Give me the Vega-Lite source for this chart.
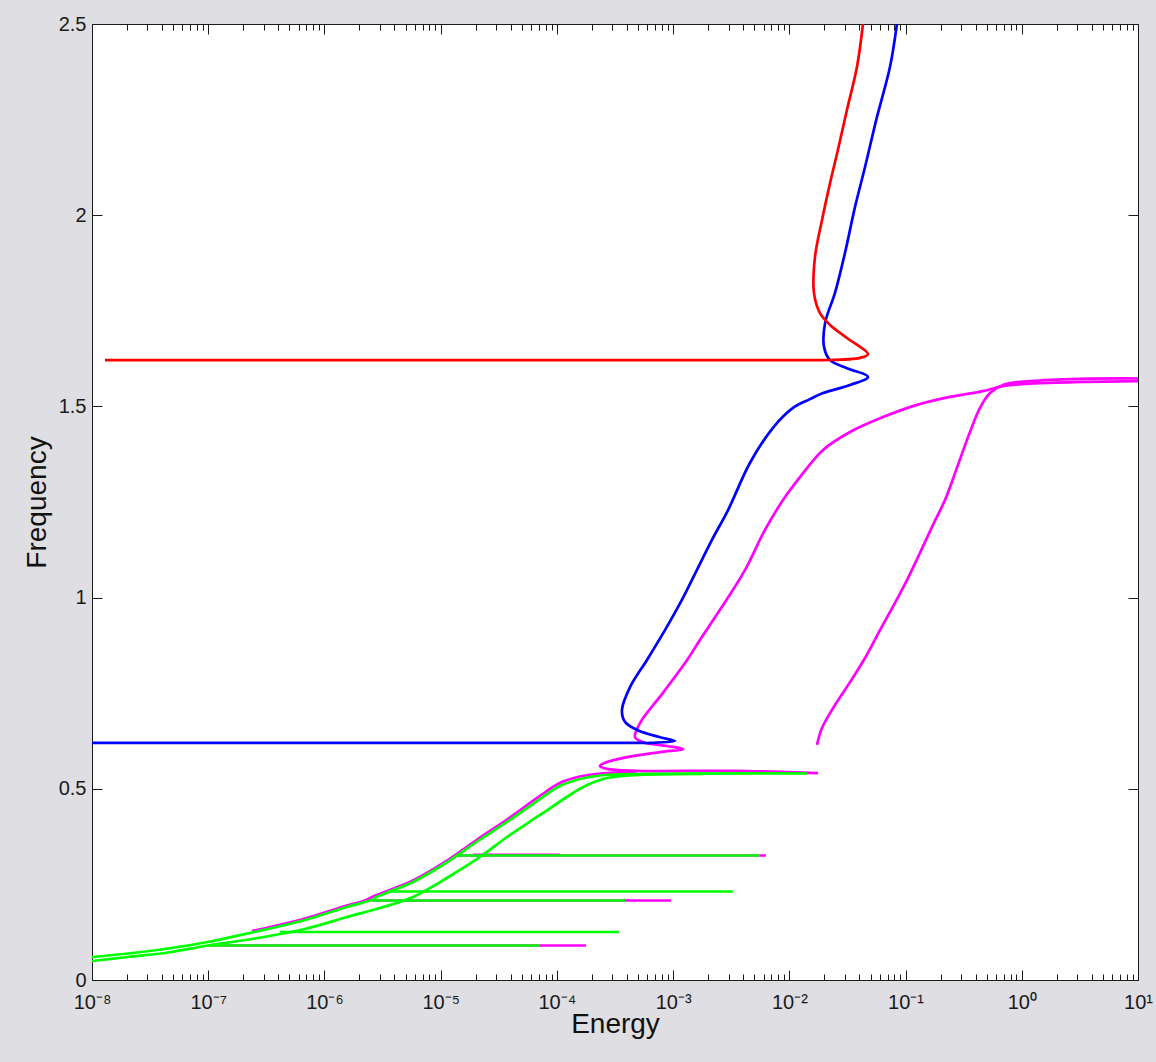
{
  "$schema": "https://vega.github.io/schema/vega-lite/v6.json",
  "width": 1046,
  "height": 956,
  "autosize": {"type": "none"},
  "padding": {"left": 92, "top": 24, "right": 18, "bottom": 82},
  "background": "#dedee3",
  "view": {"fill": "white", "stroke": "#1a1a1a", "strokeWidth": 1},
  "config": {
    "axis": {
      "domain": false,
      "grid": false,
      "tickColor": "#1a1a1a",
      "tickWidth": 1,
      "labelFont": "Liberation Sans",
      "labelFontSize": 19,
      "labelColor": "#1a1a1a",
      "labelFlush": false,
      "labelOverlap": false,
      "labelBound": false,
      "titleFont": "Liberation Sans",
      "titleFontSize": 28,
      "titleFontWeight": "normal",
      "titleColor": "#111111",
      "zindex": 1
    }
  },
  "data": {
    "values": [
      {"branch": "R", "mode": "A", "i": 0, "energy": 1.294e-8, "frequency": 1.621},
      {"branch": "R", "mode": "A", "i": 1, "energy": 0.015, "frequency": 1.621},
      {"branch": "R", "mode": "A", "i": 2, "energy": 0.0195, "frequency": 1.621},
      {"branch": "R", "mode": "A", "i": 3, "energy": 0.0406, "frequency": 1.627},
      {"branch": "R", "mode": "A", "i": 4, "energy": 0.0475, "frequency": 1.637},
      {"branch": "R", "mode": "A", "i": 5, "energy": 0.0313, "frequency": 1.679},
      {"branch": "R", "mode": "A", "i": 6, "energy": 0.0224, "frequency": 1.713},
      {"branch": "R", "mode": "A", "i": 7, "energy": 0.01835, "frequency": 1.744},
      {"branch": "R", "mode": "A", "i": 8, "energy": 0.01629, "frequency": 1.797},
      {"branch": "R", "mode": "A", "i": 9, "energy": 0.01663, "frequency": 1.891},
      {"branch": "R", "mode": "A", "i": 10, "energy": 0.0191, "frequency": 1.987},
      {"branch": "R", "mode": "A", "i": 11, "energy": 0.0224, "frequency": 2.084},
      {"branch": "R", "mode": "A", "i": 12, "energy": 0.02621, "frequency": 2.171},
      {"branch": "R", "mode": "A", "i": 13, "energy": 0.0313, "frequency": 2.275},
      {"branch": "R", "mode": "A", "i": 14, "energy": 0.0382, "frequency": 2.388},
      {"branch": "R", "mode": "A", "i": 15, "energy": 0.043, "frequency": 2.5},

      {"branch": "B", "mode": "B", "i": 0, "energy": 1e-8, "frequency": 0.62},
      {"branch": "B", "mode": "B", "i": 1, "energy": 5e-4, "frequency": 0.62},
      {"branch": "B", "mode": "B", "i": 2, "energy": 6.32e-4, "frequency": 0.62},
      {"branch": "B", "mode": "B", "i": 3, "energy": 1.038e-3, "frequency": 0.625},
      {"branch": "B", "mode": "B", "i": 4, "energy": 7.71e-4, "frequency": 0.635},
      {"branch": "B", "mode": "B", "i": 5, "energy": 4.89e-4, "frequency": 0.654},
      {"branch": "B", "mode": "B", "i": 6, "energy": 3.86e-4, "frequency": 0.675},
      {"branch": "B", "mode": "B", "i": 7, "energy": 3.63e-4, "frequency": 0.706},
      {"branch": "B", "mode": "B", "i": 8, "energy": 4.26e-4, "frequency": 0.766},
      {"branch": "B", "mode": "B", "i": 9, "energy": 5.96e-4, "frequency": 0.837},
      {"branch": "B", "mode": "B", "i": 10, "energy": 8.51e-4, "frequency": 0.915},
      {"branch": "B", "mode": "B", "i": 11, "energy": 1.19e-3, "frequency": 0.994},
      {"branch": "B", "mode": "B", "i": 12, "energy": 1.6e-3, "frequency": 1.072},
      {"branch": "B", "mode": "B", "i": 13, "energy": 2.16e-3, "frequency": 1.151},
      {"branch": "B", "mode": "B", "i": 14, "energy": 2.97e-3, "frequency": 1.229},
      {"branch": "B", "mode": "B", "i": 15, "energy": 4.58e-3, "frequency": 1.352},
      {"branch": "B", "mode": "B", "i": 16, "energy": 7.23e-3, "frequency": 1.444},
      {"branch": "B", "mode": "B", "i": 17, "energy": 1.075e-2, "frequency": 1.496},
      {"branch": "B", "mode": "B", "i": 18, "energy": 1.506e-2, "frequency": 1.519},
      {"branch": "B", "mode": "B", "i": 19, "energy": 1.95e-2, "frequency": 1.535},
      {"branch": "B", "mode": "B", "i": 20, "energy": 3.33e-2, "frequency": 1.556},
      {"branch": "B", "mode": "B", "i": 21, "energy": 4.75e-2, "frequency": 1.577},
      {"branch": "B", "mode": "B", "i": 22, "energy": 3.13e-2, "frequency": 1.6},
      {"branch": "B", "mode": "B", "i": 23, "energy": 2.24e-2, "frequency": 1.621},
      {"branch": "B", "mode": "B", "i": 24, "energy": 1.99e-2, "frequency": 1.655},
      {"branch": "B", "mode": "B", "i": 25, "energy": 2.03e-2, "frequency": 1.718},
      {"branch": "B", "mode": "B", "i": 26, "energy": 2.47e-2, "frequency": 1.797},
      {"branch": "B", "mode": "B", "i": 27, "energy": 3.01e-2, "frequency": 1.901},
      {"branch": "B", "mode": "B", "i": 28, "energy": 3.67e-2, "frequency": 2.021},
      {"branch": "B", "mode": "B", "i": 29, "energy": 4.48e-2, "frequency": 2.126},
      {"branch": "B", "mode": "B", "i": 30, "energy": 5.68e-2, "frequency": 2.257},
      {"branch": "B", "mode": "B", "i": 31, "energy": 7.35e-2, "frequency": 2.388},
      {"branch": "B", "mode": "B", "i": 32, "energy": 8.43e-2, "frequency": 2.5},

      {"branch": "C1", "mode": "C", "i": 0, "energy": 10, "frequency": 1.566},
      {"branch": "C1", "mode": "C", "i": 1, "energy": 3.363, "frequency": 1.564},
      {"branch": "C1", "mode": "C", "i": 2, "energy": 1.248, "frequency": 1.56},
      {"branch": "C1", "mode": "C", "i": 3, "energy": 0.689, "frequency": 1.553},
      {"branch": "C1", "mode": "C", "i": 4, "energy": 0.463, "frequency": 1.54},
      {"branch": "C1", "mode": "C", "i": 5, "energy": 0.241, "frequency": 1.525},
      {"branch": "C1", "mode": "C", "i": 6, "energy": 0.1253, "frequency": 1.504},
      {"branch": "C1", "mode": "C", "i": 7, "energy": 0.064, "frequency": 1.472},
      {"branch": "C1", "mode": "C", "i": 8, "energy": 0.0333, "frequency": 1.433},
      {"branch": "C1", "mode": "C", "i": 9, "energy": 0.0195, "frequency": 1.386},
      {"branch": "C1", "mode": "C", "i": 10, "energy": 0.01235, "frequency": 1.315},
      {"branch": "C1", "mode": "C", "i": 11, "energy": 8.82e-3, "frequency": 1.255},
      {"branch": "C1", "mode": "C", "i": 12, "energy": 6.17e-3, "frequency": 1.177},
      {"branch": "C1", "mode": "C", "i": 13, "energy": 4.15e-3, "frequency": 1.072},
      {"branch": "C1", "mode": "C", "i": 14, "energy": 2.53e-3, "frequency": 0.968},
      {"branch": "C1", "mode": "C", "i": 15, "energy": 1.7e-3, "frequency": 0.889},
      {"branch": "C1", "mode": "C", "i": 16, "energy": 1.32e-3, "frequency": 0.837},
      {"branch": "C1", "mode": "C", "i": 17, "energy": 8.18e-4, "frequency": 0.751},
      {"branch": "C1", "mode": "C", "i": 18, "energy": 5.19e-4, "frequency": 0.672},
      {"branch": "C1", "mode": "C", "i": 19, "energy": 4.7e-4, "frequency": 0.635},
      {"branch": "C1", "mode": "C", "i": 20, "energy": 5.51e-4, "frequency": 0.622},
      {"branch": "C1", "mode": "C", "i": 21, "energy": 8.86e-4, "frequency": 0.612},
      {"branch": "C1", "mode": "C", "i": 22, "energy": 1.22e-3, "frequency": 0.604},
      {"branch": "C1", "mode": "C", "i": 23, "energy": 7.71e-4, "frequency": 0.596},
      {"branch": "C1", "mode": "C", "i": 24, "energy": 4.01e-4, "frequency": 0.583},
      {"branch": "C1", "mode": "C", "i": 25, "energy": 2.7e-4, "frequency": 0.57},
      {"branch": "C1", "mode": "C", "i": 26, "energy": 2.35e-4, "frequency": 0.56},
      {"branch": "C1", "mode": "C", "i": 27, "energy": 2.7e-4, "frequency": 0.552},
      {"branch": "C1", "mode": "C", "i": 28, "energy": 4.89e-4, "frequency": 0.547},
      {"branch": "C1", "mode": "C", "i": 29, "energy": 3.27e-3, "frequency": 0.547},
      {"branch": "C1", "mode": "C", "i": 30, "energy": 1.764e-2, "frequency": 0.541},

      {"branch": "C2", "mode": "C", "i": 0, "energy": 0.01729, "frequency": 0.615},
      {"branch": "C2", "mode": "C", "i": 1, "energy": 0.0191, "frequency": 0.659},
      {"branch": "C2", "mode": "C", "i": 2, "energy": 0.0247, "frequency": 0.719},
      {"branch": "C2", "mode": "C", "i": 3, "energy": 0.0333, "frequency": 0.779},
      {"branch": "C2", "mode": "C", "i": 4, "energy": 0.0448, "frequency": 0.842},
      {"branch": "C2", "mode": "C", "i": 5, "energy": 0.0603, "frequency": 0.915},
      {"branch": "C2", "mode": "C", "i": 6, "energy": 0.0811, "frequency": 0.986},
      {"branch": "C2", "mode": "C", "i": 7, "energy": 0.1049, "frequency": 1.051},
      {"branch": "C2", "mode": "C", "i": 8, "energy": 0.1331, "frequency": 1.117},
      {"branch": "C2", "mode": "C", "i": 9, "energy": 0.1722, "frequency": 1.19},
      {"branch": "C2", "mode": "C", "i": 10, "energy": 0.2184, "frequency": 1.255},
      {"branch": "C2", "mode": "C", "i": 11, "energy": 0.2825, "frequency": 1.347},
      {"branch": "C2", "mode": "C", "i": 12, "energy": 0.3584, "frequency": 1.433},
      {"branch": "C2", "mode": "C", "i": 13, "energy": 0.4369, "frequency": 1.496},
      {"branch": "C2", "mode": "C", "i": 14, "energy": 0.5325, "frequency": 1.535},
      {"branch": "C2", "mode": "C", "i": 15, "energy": 0.689, "frequency": 1.556},
      {"branch": "C2", "mode": "C", "i": 16, "energy": 1.177, "frequency": 1.566},
      {"branch": "C2", "mode": "C", "i": 17, "energy": 3.168, "frequency": 1.572},
      {"branch": "C2", "mode": "C", "i": 18, "energy": 10, "frequency": 1.573},

      {"branch": "C3", "mode": "C", "i": 0, "energy": 2.38e-7, "frequency": 0.1281},
      {"branch": "C3", "mode": "C", "i": 1, "energy": 6.8e-7, "frequency": 0.1608},
      {"branch": "C3", "mode": "C", "i": 2, "energy": 1.56e-6, "frequency": 0.1948},
      {"branch": "C3", "mode": "C", "i": 3, "energy": 2.23e-6, "frequency": 0.2079},
      {"branch": "C3", "mode": "C", "i": 4, "energy": 2.57e-6, "frequency": 0.2171},
      {"branch": "C3", "mode": "C", "i": 5, "energy": 3.66e-6, "frequency": 0.2354},
      {"branch": "C3", "mode": "C", "i": 6, "energy": 5.78e-6, "frequency": 0.2602},
      {"branch": "C3", "mode": "C", "i": 7, "energy": 1.09e-5, "frequency": 0.3086},
      {"branch": "C3", "mode": "C", "i": 8, "energy": 2.09e-5, "frequency": 0.3687},
      {"branch": "C3", "mode": "C", "i": 9, "energy": 3.72e-5, "frequency": 0.4197},
      {"branch": "C3", "mode": "C", "i": 10, "energy": 7.15e-5, "frequency": 0.4812},
      {"branch": "C3", "mode": "C", "i": 11, "energy": 1.06e-4, "frequency": 0.5152},
      {"branch": "C3", "mode": "C", "i": 12, "energy": 1.58e-4, "frequency": 0.5322},
      {"branch": "C3", "mode": "C", "i": 13, "energy": 2.35e-4, "frequency": 0.54},
      {"branch": "C3", "mode": "C", "i": 14, "energy": 4.89e-4, "frequency": 0.5452},

      {"branch": "C4", "mode": "C", "i": 0, "energy": 9.95e-8, "frequency": 0.0902},
      {"branch": "C4", "mode": "C", "i": 1, "energy": 1.78e-4, "frequency": 0.0902},
      {"branch": "C5", "mode": "C", "i": 0, "energy": 2.57e-6, "frequency": 0.2079},
      {"branch": "C5", "mode": "C", "i": 1, "energy": 9.59e-4, "frequency": 0.2079},
      {"branch": "C6", "mode": "C", "i": 0, "energy": 1.9e-5, "frequency": 0.3275},
      {"branch": "C6", "mode": "C", "i": 1, "energy": 1.06e-4, "frequency": 0.3275},
      {"branch": "C7", "mode": "C", "i": 0, "energy": 1.355e-5, "frequency": 0.3256},
      {"branch": "C7", "mode": "C", "i": 1, "energy": 6.3e-3, "frequency": 0.3256},

      {"branch": "D1", "mode": "D", "i": 0, "energy": 1e-8, "frequency": 0.0601},
      {"branch": "D1", "mode": "D", "i": 1, "energy": 2.04e-8, "frequency": 0.0693},
      {"branch": "D1", "mode": "D", "i": 2, "energy": 4.51e-8, "frequency": 0.0824},
      {"branch": "D1", "mode": "D", "i": 3, "energy": 9.95e-8, "frequency": 0.0994},
      {"branch": "D1", "mode": "D", "i": 4, "energy": 2.38e-7, "frequency": 0.1242},
      {"branch": "D1", "mode": "D", "i": 5, "energy": 6.8e-7, "frequency": 0.1569},
      {"branch": "D1", "mode": "D", "i": 6, "energy": 1.56e-6, "frequency": 0.1909},
      {"branch": "D1", "mode": "D", "i": 7, "energy": 2.23e-6, "frequency": 0.204},
      {"branch": "D1", "mode": "D", "i": 8, "energy": 2.78e-6, "frequency": 0.2131},

      {"branch": "D2", "mode": "D", "i": 0, "energy": 1e-8, "frequency": 0.0497},
      {"branch": "D2", "mode": "D", "i": 1, "energy": 2.04e-8, "frequency": 0.0601},
      {"branch": "D2", "mode": "D", "i": 2, "energy": 4.51e-8, "frequency": 0.0719},
      {"branch": "D2", "mode": "D", "i": 3, "energy": 9.95e-8, "frequency": 0.0902},
      {"branch": "D2", "mode": "D", "i": 4, "energy": 2.38e-7, "frequency": 0.1072},
      {"branch": "D2", "mode": "D", "i": 5, "energy": 6.8e-7, "frequency": 0.1334},
      {"branch": "D2", "mode": "D", "i": 6, "energy": 1.56e-6, "frequency": 0.1647},
      {"branch": "D2", "mode": "D", "i": 7, "energy": 3.01e-6, "frequency": 0.1883},
      {"branch": "D2", "mode": "D", "i": 8, "energy": 5.78e-6, "frequency": 0.2171},
      {"branch": "D2", "mode": "D", "i": 9, "energy": 1.13e-5, "frequency": 0.2667},
      {"branch": "D2", "mode": "D", "i": 10, "energy": 2.18e-5, "frequency": 0.3217},
      {"branch": "D2", "mode": "D", "i": 11, "energy": 3.72e-5, "frequency": 0.374},
      {"branch": "D2", "mode": "D", "i": 12, "energy": 7.15e-5, "frequency": 0.4315},
      {"branch": "D2", "mode": "D", "i": 13, "energy": 1.375e-4, "frequency": 0.489},
      {"branch": "D2", "mode": "D", "i": 14, "energy": 1.82e-4, "frequency": 0.5099},
      {"branch": "D2", "mode": "D", "i": 15, "energy": 2.7e-4, "frequency": 0.5282},
      {"branch": "D2", "mode": "D", "i": 16, "energy": 5.19e-4, "frequency": 0.5361},
      {"branch": "D2", "mode": "D", "i": 17, "energy": 1.81e-3, "frequency": 0.5387},

      {"branch": "D3", "mode": "D", "i": 0, "energy": 2.67e-6, "frequency": 0.2144},
      {"branch": "D3", "mode": "D", "i": 1, "energy": 3.66e-6, "frequency": 0.2314},
      {"branch": "D3", "mode": "D", "i": 2, "energy": 5.78e-6, "frequency": 0.2563},
      {"branch": "D3", "mode": "D", "i": 3, "energy": 1.09e-5, "frequency": 0.3047},
      {"branch": "D3", "mode": "D", "i": 4, "energy": 2.09e-5, "frequency": 0.3635},
      {"branch": "D3", "mode": "D", "i": 5, "energy": 3.72e-5, "frequency": 0.4132},
      {"branch": "D3", "mode": "D", "i": 6, "energy": 7.15e-5, "frequency": 0.4733},
      {"branch": "D3", "mode": "D", "i": 7, "energy": 1.06e-4, "frequency": 0.5073},
      {"branch": "D3", "mode": "D", "i": 8, "energy": 1.58e-4, "frequency": 0.5256},
      {"branch": "D3", "mode": "D", "i": 9, "energy": 2.35e-4, "frequency": 0.5348},
      {"branch": "D3", "mode": "D", "i": 10, "energy": 5.19e-4, "frequency": 0.5387},
      {"branch": "D3", "mode": "D", "i": 11, "energy": 1.42e-2, "frequency": 0.54},

      {"branch": "D4", "mode": "D", "i": 0, "energy": 9.95e-8, "frequency": 0.0902},
      {"branch": "D4", "mode": "D", "i": 1, "energy": 7.15e-5, "frequency": 0.0902},
      {"branch": "D5", "mode": "D", "i": 0, "energy": 4.15e-7, "frequency": 0.1255},
      {"branch": "D5", "mode": "D", "i": 1, "energy": 3.42e-4, "frequency": 0.1255},
      {"branch": "D6", "mode": "D", "i": 0, "energy": 2.57e-6, "frequency": 0.2079},
      {"branch": "D6", "mode": "D", "i": 1, "energy": 3.86e-4, "frequency": 0.2079},
      {"branch": "D7", "mode": "D", "i": 0, "energy": 3.52e-6, "frequency": 0.2314},
      {"branch": "D7", "mode": "D", "i": 1, "energy": 3.27e-3, "frequency": 0.2314},
      {"branch": "D8", "mode": "D", "i": 0, "energy": 1.355e-5, "frequency": 0.3256},
      {"branch": "D8", "mode": "D", "i": 1, "energy": 5.59e-3, "frequency": 0.3256}
    ]
  },
  "encoding": {
    "color": {
      "field": "mode",
      "type": "nominal",
      "scale": {"domain": ["A", "B", "C", "D"], "range": ["#ff0000", "#0000ff", "#ff00ff", "#00ff00"]},
      "legend": null
    },
    "detail": {"field": "branch", "type": "nominal"},
    "order": {"field": "i", "type": "quantitative"}
  },
  "layer": [
    {
      "transform": [{"filter": "datum.mode === 'C'"}],
      "mark": {"type": "line", "strokeWidth": 2.7, "clip": true, "interpolate": "catmull-rom"},
      "encoding": {
        "x": {
          "field": "energy", "type": "quantitative",
          "scale": {"type": "log", "domain": [1e-8, 10], "nice": false},
          "axis": {
            "orient": "bottom",
            "title": "Energy",
            "titleY": 52,
            "titleBaseline": "alphabetic",
            "values": [1e-8, 1e-7, 1e-6, 1e-5, 1e-4, 1e-3, 1e-2, 1e-1, 1, 10],
            "tickSize": -10,
            "labelPadding": 38,
            "labelBaseline": "alphabetic",
            "labelAlign": "center",
            "labelFontSize": 20,
            "labelExpr": "'10' + replace(replace(replace(replace(replace(replace(replace(replace(replace(replace(replace('' + round(log(datum.value) / LN10), '-', '⁻'), '0', '⁰'), '1', '¹'), '2', '²'), '3', '³'), '4', '⁴'), '5', '⁵'), '6', '⁶'), '7', '⁷'), '8', '⁸'), '9', '⁹')"
          }
        },
        "y": {
          "field": "frequency", "type": "quantitative",
          "scale": {"domain": [0, 2.5], "nice": false, "zero": false},
          "axis": {
            "orient": "left",
            "title": "Frequency",
            "titleX": -47,
            "titleBaseline": "alphabetic",
            "values": [0, 0.5, 1, 1.5, 2, 2.5],
            "tickSize": -10,
            "labelPadding": 16,
            "labelFontSize": 20,
            "labelExpr": "'' + datum.value"
          }
        }
      }
    },
    {
      "transform": [{"filter": "datum.mode === 'D'"}],
      "mark": {"type": "line", "strokeWidth": 2.7, "clip": true, "interpolate": "catmull-rom"},
      "encoding": {
        "x": {
          "field": "energy", "type": "quantitative",
          "scale": {"type": "log", "domain": [1e-8, 10], "nice": false},
          "axis": {
            "orient": "bottom",
            "title": null,
            "labels": false,
            "tickSize": -6,
            "values": [2e-8, 3e-8, 4e-8, 5e-8, 6e-8, 7e-8, 8e-8, 9e-8, 2e-7, 3e-7, 4e-7, 5e-7, 6e-7, 7e-7, 8e-7, 9e-7, 2e-6, 3e-6, 4e-6, 5e-6, 6e-6, 7e-6, 8e-6, 9e-6, 2e-5, 3e-5, 4e-5, 5e-5, 6e-5, 7e-5, 8e-5, 9e-5, 2e-4, 3e-4, 4e-4, 5e-4, 6e-4, 7e-4, 8e-4, 9e-4, 2e-3, 3e-3, 4e-3, 5e-3, 6e-3, 7e-3, 8e-3, 9e-3, 2e-2, 3e-2, 4e-2, 5e-2, 6e-2, 7e-2, 8e-2, 9e-2, 0.2, 0.3, 0.4, 0.5, 0.6, 0.7, 0.8, 0.9, 2, 3, 4, 5, 6, 7, 8, 9]
          }
        },
        "y": {
          "field": "frequency", "type": "quantitative",
          "scale": {"domain": [0, 2.5], "nice": false, "zero": false},
          "axis": {
            "orient": "right",
            "title": null,
            "labels": false,
            "values": [0, 0.5, 1, 1.5, 2, 2.5],
            "tickSize": -10
          }
        }
      }
    },
    {
      "transform": [{"filter": "datum.mode === 'B'"}],
      "mark": {"type": "line", "strokeWidth": 2.7, "clip": true, "interpolate": "catmull-rom"},
      "encoding": {
        "x": {
          "field": "energy", "type": "quantitative",
          "scale": {"type": "log", "domain": [1e-8, 10], "nice": false},
          "axis": {
            "orient": "top",
            "title": null,
            "labels": false,
            "tickSize": -10,
            "values": [1e-8, 1e-7, 1e-6, 1e-5, 1e-4, 1e-3, 1e-2, 1e-1, 1, 10]
          }
        },
        "y": {
          "field": "frequency", "type": "quantitative",
          "scale": {"domain": [0, 2.5], "nice": false, "zero": false},
          "axis": null
        }
      }
    },
    {
      "transform": [{"filter": "datum.mode === 'A'"}],
      "mark": {"type": "line", "strokeWidth": 2.7, "clip": true, "interpolate": "catmull-rom"},
      "encoding": {
        "x": {
          "field": "energy", "type": "quantitative",
          "scale": {"type": "log", "domain": [1e-8, 10], "nice": false},
          "axis": {
            "orient": "top",
            "title": null,
            "labels": false,
            "tickSize": -6,
            "values": [2e-8, 3e-8, 4e-8, 5e-8, 6e-8, 7e-8, 8e-8, 9e-8, 2e-7, 3e-7, 4e-7, 5e-7, 6e-7, 7e-7, 8e-7, 9e-7, 2e-6, 3e-6, 4e-6, 5e-6, 6e-6, 7e-6, 8e-6, 9e-6, 2e-5, 3e-5, 4e-5, 5e-5, 6e-5, 7e-5, 8e-5, 9e-5, 2e-4, 3e-4, 4e-4, 5e-4, 6e-4, 7e-4, 8e-4, 9e-4, 2e-3, 3e-3, 4e-3, 5e-3, 6e-3, 7e-3, 8e-3, 9e-3, 2e-2, 3e-2, 4e-2, 5e-2, 6e-2, 7e-2, 8e-2, 9e-2, 0.2, 0.3, 0.4, 0.5, 0.6, 0.7, 0.8, 0.9, 2, 3, 4, 5, 6, 7, 8, 9]
          }
        },
        "y": {
          "field": "frequency", "type": "quantitative",
          "scale": {"domain": [0, 2.5], "nice": false, "zero": false},
          "axis": null
        }
      }
    }
  ],
  "resolve": {"axis": {"x": "independent", "y": "independent"}}
}
